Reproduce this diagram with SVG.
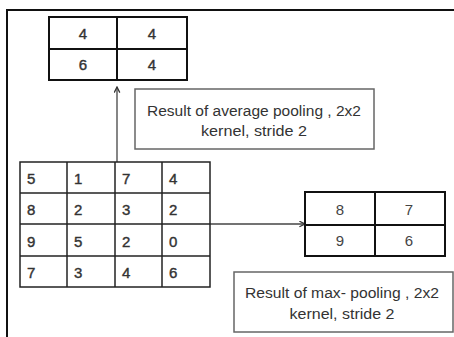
<svg xmlns="http://www.w3.org/2000/svg" width="454" height="337" viewBox="0 0 454 337">
  <defs>
    <marker id="arrow" viewBox="0 0 10 10" refX="9" refY="5" markerWidth="7" markerHeight="7" markerUnits="userSpaceOnUse" orient="auto">
      <path d="M1,1 L9,5 L1,9" fill="none" stroke="#333" stroke-width="1.8"/>
    </marker>
  </defs>
  <style>
    .grid { fill: #fff; stroke: #111; stroke-width: 2; }
    .thin { fill: #fff; stroke: #222; stroke-width: 1.5; }
    .line { stroke: #111; stroke-width: 2; fill: none; }
    .line1 { stroke: #222; stroke-width: 1.5; fill: none; }
    .num { font-family: "Liberation Sans", Arial, sans-serif; font-size: 15px; fill: #333; stroke: #333; stroke-width: 0.4; }
    .light { stroke-width: 0; fill: #444; }
    .mid { text-anchor: middle; }
    .cap { font-family: "Liberation Sans", Arial, sans-serif; font-size: 14px; fill: #333; text-anchor: middle; }
    .box { fill: #fff; stroke: #666; stroke-width: 1.5; }
    .conn { stroke: #444; stroke-width: 1.3; fill: none; }
  </style>

  <rect width="454" height="337" fill="#fff"/>
  <!-- page frame (top and left edges) -->
  <path d="M7,337 V10 H454" fill="none" stroke="#111" stroke-width="2"/>

  <!-- connectors -->
  <g id="connectors">
    <line class="conn" x1="117" y1="162" x2="117" y2="87" marker-end="url(#arrow)"/>
    <line class="conn" x1="210" y1="224" x2="305" y2="224" marker-end="url(#arrow)"/>
  </g>

  <!-- average pooling result -->
  <g id="avg-result">
    <rect class="grid" x="49" y="17" width="138" height="63"/>
    <line class="line" x1="49" y1="49" x2="187" y2="49"/>
    <line class="line" x1="117" y1="17" x2="117" y2="80"/>
    <text class="num mid" x="83" y="39">4</text>
    <text class="num mid" x="152" y="39" stroke-width="0.9">4</text>
    <text class="num mid" x="83" y="70">6</text>
    <text class="num mid" x="152" y="70">4</text>
  </g>

  <g id="avg-label">
    <rect class="box" x="135" y="89" width="239" height="60"/>
    <text class="cap" x="254" y="116" textLength="214" lengthAdjust="spacingAndGlyphs">Result of average pooling , 2x2</text>
    <text class="cap" x="254" y="136" textLength="106" lengthAdjust="spacingAndGlyphs">kernel, stride 2</text>
  </g>

  <!-- input feature map -->
  <g id="input">
    <rect class="thin" x="20" y="162" width="190" height="125"/>
    <line class="line1" x1="20" y1="193" x2="210" y2="193"/>
    <line class="line1" x1="20" y1="224" x2="210" y2="224"/>
    <line class="line1" x1="20" y1="256" x2="210" y2="256"/>
    <line class="line1" x1="67" y1="162" x2="67" y2="287"/>
    <line class="line1" x1="115" y1="162" x2="115" y2="287"/>
    <line class="line1" x1="162" y1="162" x2="162" y2="287"/>
    <text class="num" x="27" y="184">5</text>
    <text class="num" x="74" y="184">1</text>
    <text class="num" x="122" y="184">7</text>
    <text class="num" x="169" y="184">4</text>
    <text class="num" x="27" y="215">8</text>
    <text class="num" x="74" y="215">2</text>
    <text class="num" x="122" y="215">3</text>
    <text class="num" x="169" y="215">2</text>
    <text class="num" x="27" y="247">9</text>
    <text class="num" x="74" y="247">5</text>
    <text class="num" x="122" y="247">2</text>
    <text class="num" x="169" y="247">0</text>
    <text class="num" x="27" y="278">7</text>
    <text class="num" x="74" y="278">3</text>
    <text class="num" x="122" y="278">4</text>
    <text class="num" x="169" y="278">6</text>
  </g>

  <!-- max pooling result -->
  <g id="max-result">
    <rect class="grid" x="305" y="192" width="140" height="64"/>
    <line class="line" x1="305" y1="225" x2="445" y2="225"/>
    <line class="line" x1="375" y1="192" x2="375" y2="256"/>
    <text class="num light mid" x="340" y="215">8</text>
    <text class="num light mid" x="409" y="215">7</text>
    <text class="num light mid" x="340" y="246">9</text>
    <text class="num light mid" x="409" y="246">6</text>
  </g>

  <g id="max-label">
    <rect class="box" x="234" y="272" width="219" height="60"/>
    <text class="cap" x="342" y="298" textLength="194" lengthAdjust="spacingAndGlyphs">Result of max- pooling , 2x2</text>
    <text class="cap" x="342" y="319" textLength="105" lengthAdjust="spacingAndGlyphs">kernel, stride 2</text>
  </g>
</svg>
